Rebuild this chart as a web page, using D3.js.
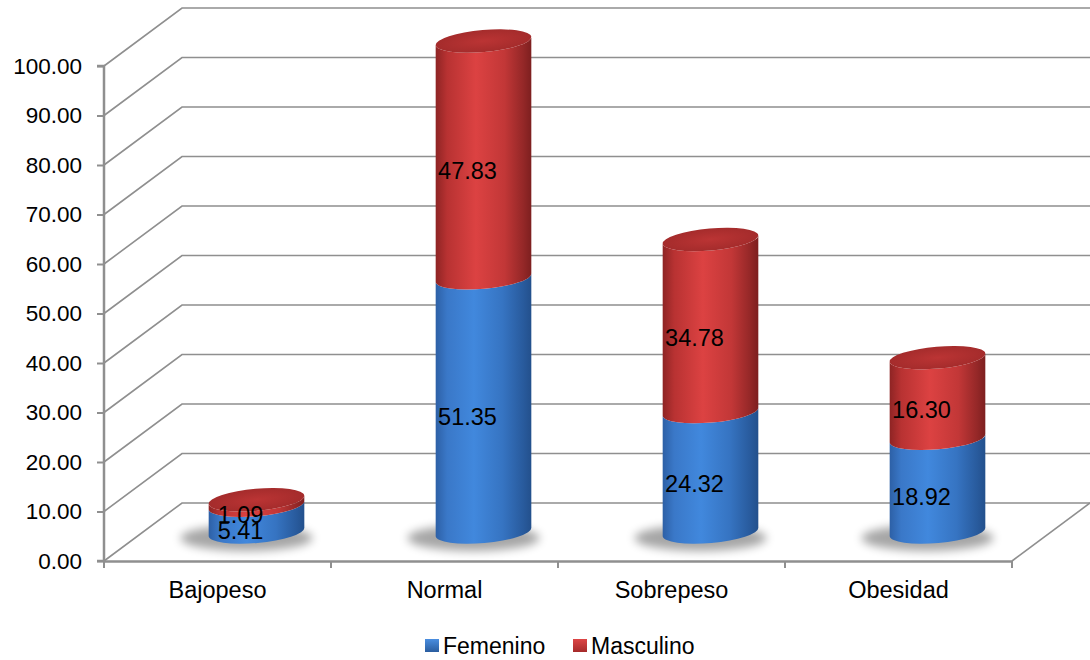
<!DOCTYPE html>
<html>
<head>
<meta charset="utf-8">
<script src="https://cdn.jsdelivr.net/npm/d3@7"></script>
<style>
  html, body { margin: 0; padding: 0; background: #fff; }
  svg { display: block; font-family: "Liberation Sans", Arial, sans-serif; }
</style>
</head>
<body>
<svg id="chart" width="1090" height="660"></svg>
<script>
// Weight status categories and the share of each sex (stacked)
const categories = ["Bajopeso", "Normal", "Sobrepeso", "Obesidad"];
const femenino = [5.41, 51.35, 24.32, 18.92];
const masculino = [1.09, 47.83, 34.78, 16.30];
const yTicks = [0, 10, 20, 30, 40, 50, 60, 70, 80, 90, 100];
const seriesNames = ["Femenino", "Masculino"];

const svg = d3.select("#chart");
const defs = svg.append("defs");

// Plot frame (front plane) and 3D depth offset
const plotLeft = 104, plotRight = 1012, plotBottom = 561, plotTop = 66;
const depthX = 78, depthY = -58;

const y = d3.scaleLinear().domain([0, 100]).range([plotBottom, plotTop]);
const x = d3.scaleBand().domain(categories).range([plotLeft, plotRight]);

const gridColor = "#8f8f8f";
const fontFamily = "'Liberation Sans', Arial, sans-serif";

// Gradients for the cylinder bodies
function bodyGradient(id, stops) {
  const g = defs.append("linearGradient").attr("id", id)
    .attr("x1", "0%").attr("x2", "100%").attr("y1", "0%").attr("y2", "0%");
  stops.forEach(([o, c]) => g.append("stop").attr("offset", o).attr("stop-color", c));
}
bodyGradient("gBlue", [["0%", "#2d60a6"], ["12%", "#3a78c8"], ["40%", "#4188dd"], ["70%", "#3674c2"], ["92%", "#285a9c"], ["100%", "#23508c"]]);
bodyGradient("gRed", [["0%", "#8e2424"], ["12%", "#b83232"], ["42%", "#dc4242"], ["72%", "#c23737"], ["92%", "#932727"], ["100%", "#7d1f1f"]]);
const topGrad = defs.append("radialGradient").attr("id", "gRedTop")
  .attr("cx", "50%").attr("cy", "50%").attr("r", "60%");
topGrad.append("stop").attr("offset", "0%").attr("stop-color", "#bb3434");
topGrad.append("stop").attr("offset", "100%").attr("stop-color", "#a02a2a");

const blur = defs.append("filter").attr("id", "shadowBlur")
  .attr("x", "-50%").attr("y", "-100%").attr("width", "200%").attr("height", "300%");
blur.append("feGaussianBlur").attr("stdDeviation", 5);

const legendBlue = defs.append("linearGradient").attr("id", "lgBlue").attr("x1", "0").attr("x2", "0").attr("y1", "0").attr("y2", "1");
legendBlue.append("stop").attr("offset", "0%").attr("stop-color", "#4a8ee0");
legendBlue.append("stop").attr("offset", "100%").attr("stop-color", "#2a5d9f");
const legendRed = defs.append("linearGradient").attr("id", "lgRed").attr("x1", "0").attr("x2", "0").attr("y1", "0").attr("y2", "1");
legendRed.append("stop").attr("offset", "0%").attr("stop-color", "#dd4545");
legendRed.append("stop").attr("offset", "100%").attr("stop-color", "#a52a2a");

// Walls: side wall diagonals + back wall horizontal gridlines
const walls = svg.append("g").attr("fill", "none").attr("stroke", gridColor).attr("stroke-width", 1.6);
yTicks.forEach(t => {
  walls.append("path")
    .attr("d", `M${plotLeft},${y(t)} L${plotLeft + depthX},${y(t) + depthY} L1090,${y(t) + depthY}`);
});
// Floor
walls.append("path")
  .attr("d", `M${plotRight},${plotBottom} L${plotRight + depthX},${plotBottom + depthY}`);

// Y axis
const yAxis = svg.append("g")
  .attr("transform", `translate(${plotLeft},0)`)
  .call(d3.axisLeft(y).tickValues(yTicks).tickSize(7).tickPadding(15).tickFormat(d => d.toFixed(2)));
yAxis.select(".domain").attr("stroke", gridColor).attr("stroke-width", 2.5).attr("d", `M-7,${plotTop}H0V${plotBottom}H-7`);
yAxis.selectAll(".tick line").attr("stroke", gridColor).attr("stroke-width", 2);
yAxis.selectAll(".tick text").attr("fill", "#000").style("font-size", "22.5px")
  .style("font-family", fontFamily);

// X axis (category labels centred, ticks at category boundaries)
const xAxis = svg.append("g")
  .attr("transform", `translate(0,${plotBottom})`)
  .call(d3.axisBottom(x).tickSize(0).tickPadding(20));
xAxis.select(".domain").attr("stroke", gridColor).attr("stroke-width", 2.5);
xAxis.selectAll(".tick text").attr("fill", "#000").style("font-size", "23.5px")
  .style("font-family", fontFamily);
const bounds = categories.map(c => x(c)).concat([x(categories[categories.length - 1]) + x.bandwidth()]);
svg.append("g").selectAll("line").data(bounds).join("line")
  .attr("x1", d => d).attr("x2", d => d)
  .attr("y1", plotBottom).attr("y2", plotBottom + 7)
  .attr("stroke", gridColor).attr("stroke-width", 2);

// Cylinders
const rx = 48, ry = 11, tilt = -5;
const rad = tilt * Math.PI / 180;
const ex = rx * Math.cos(rad), ey = rx * Math.sin(rad);

function bodyPath(cx, yb, yt) {
  // left edge up, front arc of the top ellipse, down the right edge, front arc at the bottom
  return `M${cx - ex},${yt - ey}` +
    `A${rx},${ry} ${tilt} 0 0 ${cx + ex},${yt + ey}` +
    `L${cx + ex},${yb + ey}` +
    `A${rx},${ry} ${tilt} 0 1 ${cx - ex},${yb - ey}Z`;
}

const bars = svg.append("g");
const labels = [];
categories.forEach((c, i) => {
  const cx = x(c) + x.bandwidth() / 2 + depthX / 2;
  const off = depthY / 2;
  const y0 = y(0) + off;
  const y1 = y(femenino[i]) + off;
  const y2 = y(femenino[i] + masculino[i]) + off;

  // soft floor shadow
  bars.append("ellipse")
    .attr("cx", cx - 10).attr("cy", y0 + 6)
    .attr("rx", rx + 18).attr("ry", ry + 2)
    .attr("fill", "#000").attr("opacity", 0.35)
    .attr("filter", "url(#shadowBlur)");

  bars.append("path").attr("d", bodyPath(cx, y0, y1)).attr("fill", "url(#gBlue)");
  bars.append("path").attr("d", bodyPath(cx, y1, y2)).attr("fill", "url(#gRed)");
  bars.append("ellipse")
    .attr("cx", cx).attr("cy", y2).attr("rx", rx).attr("ry", ry)
    .attr("transform", `rotate(${tilt},${cx},${y2})`)
    .attr("fill", "url(#gRedTop)");

  labels.push({ x: cx - 16, y: (y0 + y1) / 2 + 12, v: femenino[i] });
  labels.push({ x: cx - 16, y: (y1 + y2) / 2 + 12, v: masculino[i] });
});

svg.append("g").selectAll("text").data(labels).join("text")
  .attr("x", d => d.x).attr("y", d => d.y)
  .attr("text-anchor", "middle").attr("dominant-baseline", "central")
  .style("font-size", "23.5px").attr("fill", "#000")
  .text(d => d.v.toFixed(2));

// Legend
const legend = svg.append("g").attr("transform", "translate(0,646)");
const legendItems = [
  { name: seriesNames[0], x: 425, fill: "url(#lgBlue)" },
  { name: seriesNames[1], x: 573, fill: "url(#lgRed)" }
];
legendItems.forEach(it => {
  legend.append("rect").attr("x", it.x).attr("y", -7).attr("width", 14).attr("height", 13).attr("fill", it.fill);
  legend.append("text").attr("x", it.x + 18).attr("y", 0)
    .attr("dominant-baseline", "central").style("font-size", "23px").attr("fill", "#000")
    .text(it.name);
});
</script>
</body>
</html>
